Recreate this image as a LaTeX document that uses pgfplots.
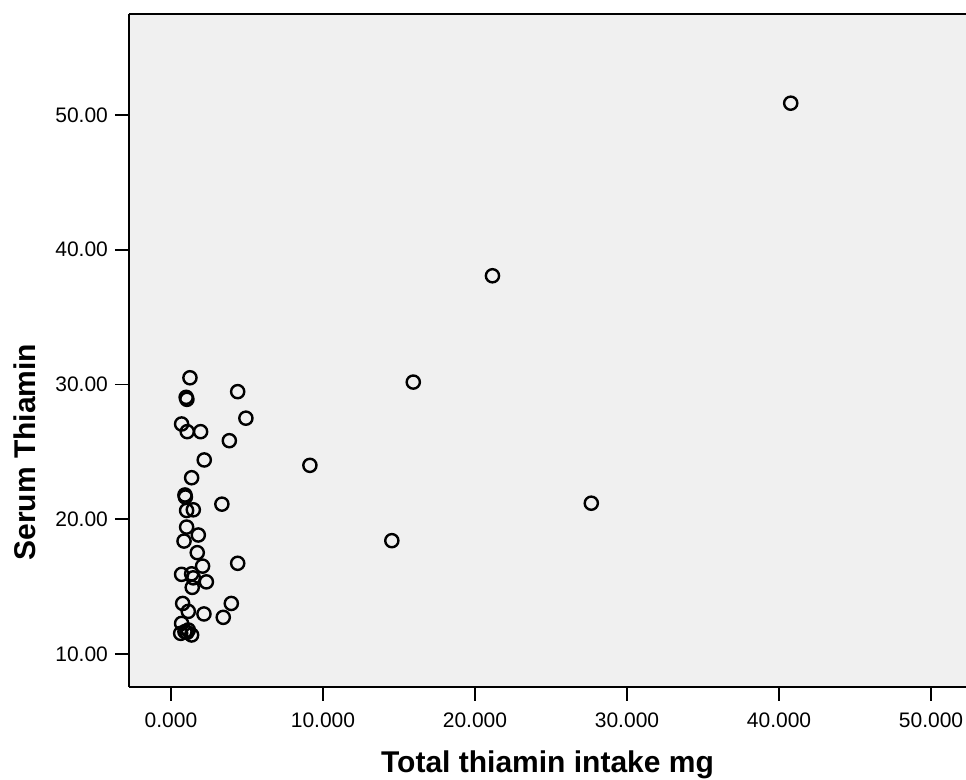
\documentclass[border=0pt]{standalone}
\usepackage{fontspec}
\setmainfont{Liberation Sans}
\usepackage{pgfplots}
\pgfplotsset{compat=1.18}
\definecolor{plotbg}{HTML}{F0F0F0}

\begin{document}
\begin{tikzpicture}
\begin{axis}[
    name=ax,
    scale only axis,
    width=418.5pt, height=336.5pt,
    xmin=-2.76, xmax=52.3,
    ymin=7.55, ymax=57.5,
    axis x line=box, axis y line=left,
    axis line style={-, line width=0.8pt},
    axis background/.style={fill=plotbg},
    xtick={0,10,20,30,40,50},
    ytick={10,20,30,40,50},
    xtick pos=bottom, ytick pos=left,
    tick align=outside,
    major tick length=7pt,
    tick style={black, line width=0.8pt},
    tick label style={font=\fontsize{10.5}{12}\selectfont},
    xticklabel style={yshift=-2.5pt, /pgf/number format/.cd, fixed, fixed zerofill, precision=3},
    yticklabel style={/pgf/number format/.cd, fixed, fixed zerofill, precision=2},
    /pgf/number format/assume math mode=true,
    xlabel={Total thiamin intake mg},
    ylabel={Serum Thiamin},
    label style={font=\fontsize{15}{17}\selectfont\bfseries},
    xlabel style={at={(axis description cs:0.5,-0.1159)}, anchor=center},
    ylabel style={at={(axis description cs:-0.1243,0.349)}, anchor=center},
  ]
  \addplot[only marks, mark=o, mark size=3.3pt, line width=1.2pt, black]
  coordinates{
    (40.77,50.88) (21.15,38.07) (15.94,30.18) (9.14,24.0) (27.65,21.19) (14.53,18.41)
    (1.25,30.5) (1.00,29.05) (1.05,28.9) (0.70,27.07) (1.07,26.5) (1.95,26.5)
    (2.19,24.4) (1.36,23.08) (0.92,21.8) (0.95,21.65) (1.03,20.65) (1.47,20.7)
    (1.03,19.42) (1.80,18.83) (0.86,18.38) (1.73,17.52) (2.08,16.52) (0.70,15.91)
    (1.36,15.95) (1.47,15.65) (2.33,15.35) (1.40,14.94) (0.77,13.75) (1.14,13.16)
    (2.17,12.97) (0.70,12.27) (0.64,11.53) (0.92,11.66) (1.14,11.78) (1.36,11.41)
    (1.05,11.6) (4.39,29.47) (4.93,27.5) (3.84,25.83) (3.35,21.12) (4.39,16.73)
    (3.97,13.75) (3.44,12.72)
  };
\end{axis}
\pgfresetboundingbox
\path[use as bounding box] ([shift={(-64.5pt,-46.5pt)}]ax.south west) rectangle ([yshift=7pt]ax.north east);
\end{tikzpicture}
\end{document}
